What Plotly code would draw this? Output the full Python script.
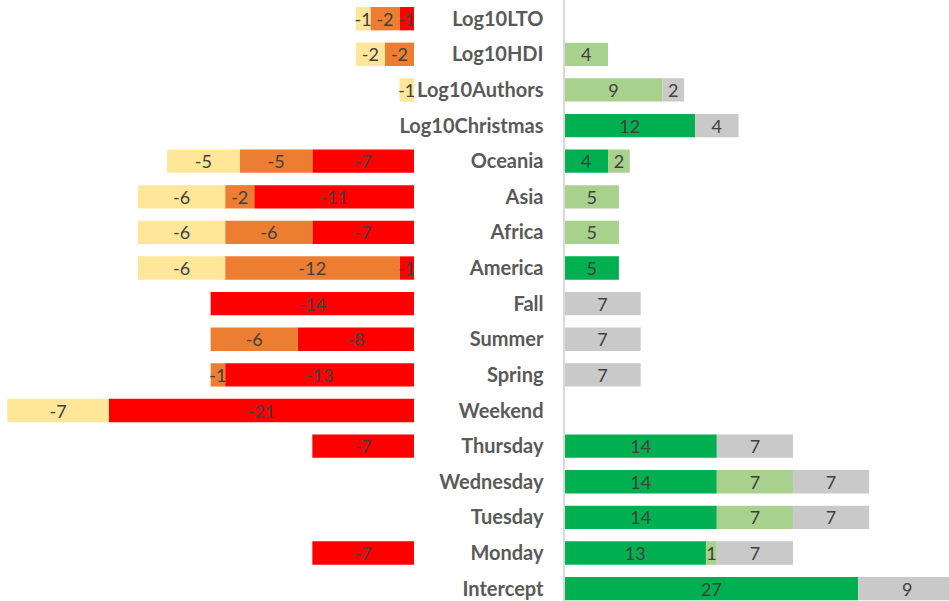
import plotly.graph_objects as go

categories = ["Log10LTO", "Log10HDI", "Log10Authors", "Log10Christmas", "Oceania", "Asia",
              "Africa", "America", "Fall", "Summer", "Spring", "Weekend", "Thursday",
              "Wednesday", "Tuesday", "Monday", "Intercept"]

neg_strong = [-1, 0, 0, 0, -7, -11, -7, -1, -14, -8, -13, -21, -7, 0, 0, -7, 0]
neg_medium = [-2, -2, 0, 0, -5, -2, -6, -12, 0, -6, -1, 0, 0, 0, 0, 0, 0]
neg_weak = [-1, -2, -1, 0, -5, -6, -6, -6, 0, 0, 0, -7, 0, 0, 0, 0, 0]

pos_strong = [0, 0, 0, 12, 4, 0, 0, 5, 0, 0, 0, 0, 14, 14, 14, 13, 27]
pos_medium = [0, 4, 9, 0, 2, 5, 5, 0, 0, 0, 0, 0, 0, 7, 7, 1, 0]
pos_neutral = [0, 0, 2, 4, 0, 0, 0, 0, 7, 7, 7, 0, 7, 7, 7, 7, 9]

series = [
    ("neg_strong", neg_strong, "#FF0000", "x"),
    ("neg_medium", neg_medium, "#ED7D31", "x"),
    ("neg_weak", neg_weak, "#FFE699", "x"),
    ("pos_strong", pos_strong, "#00B050", "x2"),
    ("pos_medium", pos_medium, "#A9D18E", "x2"),
    ("pos_neutral", pos_neutral, "#C9C9C9", "x2"),
]

FONT = "Lato"
fig = go.Figure()
for name, vals, color, xa in series:
    fig.add_trace(go.Bar(
        name=name, y=categories, x=vals, orientation="h",
        xaxis=xa, yaxis="y",
        marker=dict(color=color, line=dict(width=0)),
        text=[str(v) if v != 0 else "" for v in vals],
        textposition="inside", insidetextanchor="middle", textangle=0,
        textfont=dict(family=FONT, size=18, color="#404040"),
        cliponaxis=True, hoverinfo="skip",
    ))

W, H = 949, 601
zero_left = 414.0
zero_right = 564.5
px_left = 14.525
px_right = 10.88
row = 35.62
first_center = 18.7

fig.update_layout(
    width=W, height=H,
    margin=dict(l=0, r=0, t=0, b=0),
    barmode="relative", bargap=0.345,
    showlegend=False,
    plot_bgcolor="white", paper_bgcolor="white",
    uniformtext=dict(minsize=18, mode="show"),
    xaxis=dict(domain=[0, zero_left / W], range=[-zero_left / px_left, 0],
               visible=False, fixedrange=True),
    xaxis2=dict(domain=[zero_right / W, 1], range=[0, (W - zero_right) / px_right],
                visible=False, fixedrange=True),
    yaxis=dict(
        categoryorder="array", categoryarray=categories,
        range=[(H - first_center) / row, -first_center / row],
        anchor="x2", side="left", automargin=False,
        showline=True, linecolor="#D9D9D9", linewidth=2,
        showgrid=False, zeroline=False, ticks="",
        ticklabelstandoff=15,
        tickfont=dict(family=FONT, size=20, color="#595959", weight="bold"),
    ),
)

fig.write_html("out.html", config={"displayModeBar": False},
               post_script="document.body.style.margin='0';document.body.style.overflow='hidden';")
